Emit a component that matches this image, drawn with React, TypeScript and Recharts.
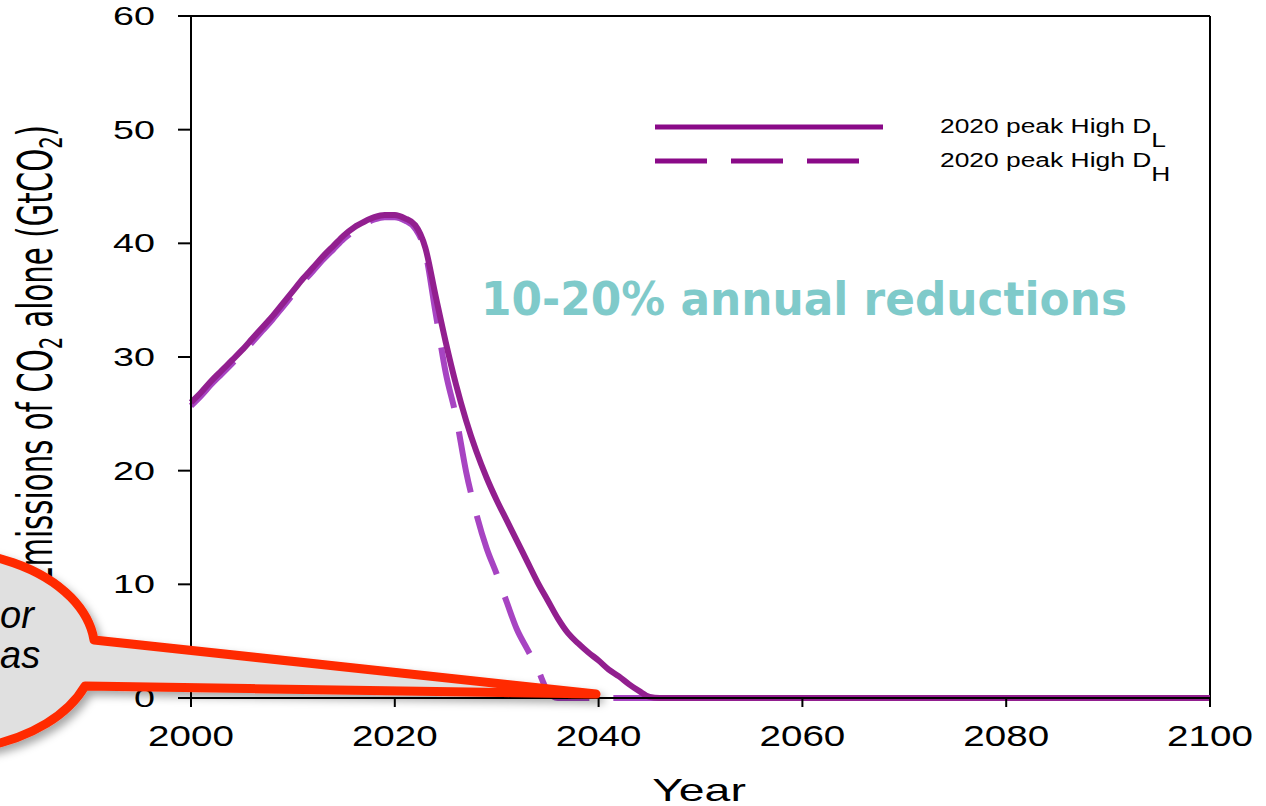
import React from "react";
import { LineChart, Line, XAxis, YAxis, ReferenceLine } from "recharts";

const years = [
  2000, 2001, 2002, 2003, 2004, 2005, 2006, 2007, 2008, 2009,
  2010, 2011, 2012, 2013, 2014, 2015, 2016, 2017, 2018, 2019,
  2020, 2021, 2022, 2023, 2024, 2025, 2026, 2027, 2028, 2029,
  2030, 2031, 2032, 2033, 2034, 2035, 2036, 2037, 2038, 2039,
  2040, 2041, 2042, 2043, 2044, 2045, 2046, 2047, 2048, 2049,
  2050, 2060, 2070, 2080, 2090, 2100,
];

// 2020 peak High D_L (solid)
const highDL = [
  26.0, 26.9, 27.9, 28.8, 29.7, 30.6, 31.6, 32.6, 33.6, 34.7,
  35.8, 36.9, 37.9, 38.9, 39.8, 40.7, 41.4, 41.9, 42.3, 42.5,
  42.5, 42.2, 41.6, 39.6, 35.4, 31.3, 27.6, 24.4, 21.7, 19.4,
  17.4, 15.6, 13.8, 12.0, 10.2, 8.6, 7.0, 5.7, 4.8, 4.0,
  3.3, 2.5, 1.9, 1.2, 0.6, 0.1, 0, 0, 0, 0,
  0, 0, 0, 0, 0, 0,
];

// 2020 peak High D_H (dashed)
const highDH = [
  25.7, 26.6, 27.6, 28.5, 29.4, 30.3, 31.3, 32.3, 33.3, 34.4,
  35.5, 36.6, 37.6, 38.6, 39.5, 40.4, 41.1, 41.7, 42.1, 42.3,
  42.3, 42.0, 41.3, 39.2, 33.9, 28.6, 24.8, 19.9, 16.2, 13.2,
  10.9, 8.4, 6.0, 4.3, 2.6, 0.6, 0, 0, 0, 0,
  0, 0, 0, 0, 0, 0, 0, 0, 0, 0,
  0, 0, 0, 0, 0, 0,
];

const xTicks = [2000, 2020, 2040, 2060, 2080, 2100];
const yTicks = [0, 10, 20, 30, 40, 50, 60];

const series = [
  { key: "dh", label: "2020 peak High D", sub: "H", color: "#a744c2", legendColor: "#8a0a88", dash: "62 24" },
  { key: "dl", label: "2020 peak High D", sub: "L", color: "#921f8f", legendColor: "#8a0a88", dash: undefined },
];

const data = years.map((year, i) => ({ year, dl: highDL[i], dh: highDH[i] }));

const FONT = "'Liberation Sans', Arial, sans-serif";

function XTick(props: any) {
  const { x, y, payload } = props;
  return (
    <g transform={`translate(${x},${y}) scale(1.33,1)`}>
      <text x={0} y={0} dy={37} textAnchor="middle" fontFamily={FONT} fontSize={29} fill="#000">
        {payload.value}
      </text>
    </g>
  );
}

function YTick(props: any) {
  const { x, y, payload } = props;
  return (
    <g transform={`translate(${x - 21},${y}) scale(1.45,1)`}>
      <text x={0} y={0} dy={9} textAnchor="end" fontFamily={FONT} fontSize={26} fill="#000">
        {payload.value}
      </text>
    </g>
  );
}

function LegendBox() {
  // solid first, dashed second
  const rows = [series[1], series[0]];
  return (
    <g transform="translate(620,80)">
      {rows.map((s, i) => {
        const ly = 47 + i * 34;
        return (
          <g key={s.key}>
            <line
              x1={35}
              x2={s.dash ? 240 : 263}
              y1={ly}
              y2={ly}
              stroke={s.legendColor}
              strokeWidth={5}
              strokeDasharray={s.dash ? "52 24" : undefined}
            />
            <g transform={`translate(320,${ly + 6}) scale(1.32,1)`}>
              <text x={0} y={0} fontFamily={FONT} fontSize={20} fill="#000">
                {s.label}
                <tspan dy={14}>{s.sub}</tspan>
              </text>
            </g>
          </g>
        );
      })}
    </g>
  );
}

export default function App() {
  return (
    <div style={{ position: "absolute", left: 0, top: 0, width: 1266, height: 806, background: "#fff" }}>
      <LineChart width={1266} height={806} data={data} margin={{ top: 16, right: 56, bottom: 78, left: 0 }}>
        <XAxis
          dataKey="year"
          type="number"
          domain={[2000, 2100]}
          ticks={xTicks}
          height={30}
          tickSize={9}
          stroke="#000"
          strokeWidth={2}
          tick={<XTick />}
          interval={0}
        />
        <YAxis
          type="number"
          domain={[0, 60]}
          ticks={yTicks}
          width={191}
          tickSize={13}
          stroke="#000"
          strokeWidth={2}
          tick={<YTick />}
          interval={0}
        />
        <ReferenceLine y={60} stroke="#000" strokeWidth={2} />
        <ReferenceLine x={2100} stroke="#000" strokeWidth={2} />
        {series.map((s) => (
          <Line
            key={s.key}
            dataKey={s.key}
            type="monotone"
            stroke={s.color}
            strokeWidth={6}
            strokeDasharray={s.dash}
            dot={false}
            activeDot={false}
            isAnimationActive={false}
          />
        ))}
      </LineChart>
      <svg
        width={1266}
        height={806}
        style={{ position: "absolute", left: 0, top: 0, pointerEvents: "none" }}
      >
        <defs>
          <filter id="shadow" x="-20%" y="-20%" width="140%" height="160%">
            <feDropShadow dx={4} dy={5} stdDeviation={4} floodColor="#000" floodOpacity={0.35} />
          </filter>
        </defs>
        <LegendBox />
        <text
          transform="translate(52,355) rotate(-90)"
          textAnchor="middle"
          fontFamily="'Liberation Sans Narrow', 'DejaVu Sans Condensed', sans-serif"
          fontSize={48}
          textLength={460}
          lengthAdjust="spacingAndGlyphs"
          fill="#000"
        >
          Emissions of CO
          <tspan fontSize={32} dy={10}>2</tspan>
          <tspan dy={-10}> alone (GtCO</tspan>
          <tspan fontSize={32} dy={10}>2</tspan>
          <tspan dy={-10}>)</tspan>
        </text>
        <text
          x={481}
          y={315}
          fontFamily="'DejaVu Sans', Verdana, sans-serif"
          fontWeight="bold"
          fontSize={46}
          textLength={646}
          lengthAdjust="spacingAndGlyphs"
          fill="#7fcaca"
        >
          10-20% annual reductions
        </text>
        <g transform="translate(699,801) scale(1.45,1)">
          <text x={0} y={0} textAnchor="middle" fontFamily={FONT} fontSize={32} fill="#000">
            Year
          </text>
        </g>
        <path
          d="M 94 640 L 596 694 L 85 686 A 155 100 0 1 1 94 640 Z"
          fill="#e0e0e0"
          stroke="#ff2a00"
          strokeWidth={9}
          strokeLinejoin="round"
          filter="url(#shadow)"
        />
        <text x={0} y={628} fontFamily={FONT} fontStyle="italic" fontSize={38} fill="#000">
          or
        </text>
        <text x={0} y={668} fontFamily={FONT} fontStyle="italic" fontSize={38} fill="#000">
          as
        </text>
      </svg>
    </div>
  );
}
